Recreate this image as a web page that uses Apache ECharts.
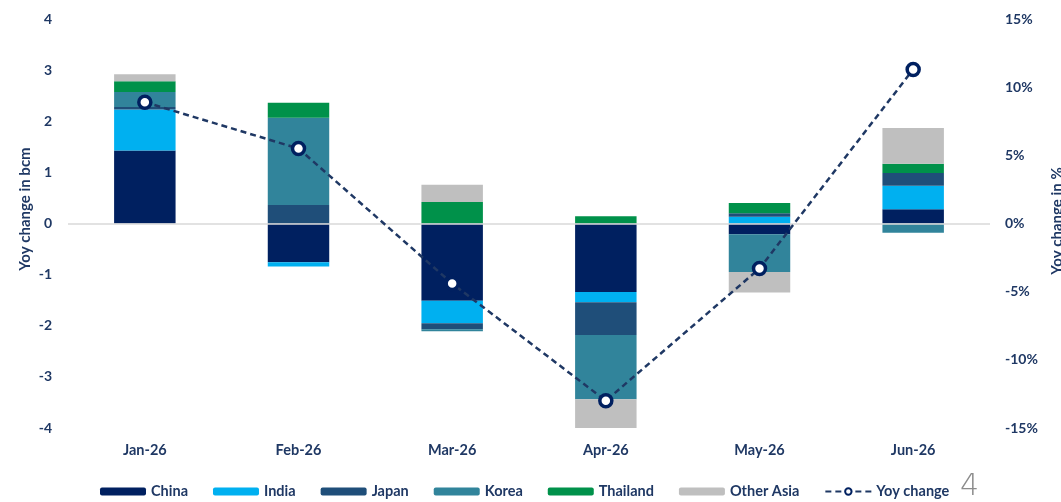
<!DOCTYPE html>
<html>
<head>
<meta charset="utf-8">
<script src="https://cdn.jsdelivr.net/npm/echarts@6/dist/echarts.min.js"></script>
<style>
  html, body { margin: 0; padding: 0; background: #ffffff; }
  #chart { width: 1061px; height: 502px; }
</style>
</head>
<body>
<div id="chart"></div>
<script>
// LNG import change by origin, year-on-year (bcm), with total yoy change (%)
const months = ['Jan-26', 'Feb-26', 'Mar-26', 'Apr-26', 'May-26', 'Jun-26'];
const china     = [1.43, -0.76, -1.51, -1.34, -0.21, 0.28];
const india     = [0.80, -0.08, -0.44, -0.20, 0.13, 0.46];
const japan     = [0.05, 0.36, -0.12, -0.64, 0.07, 0.25];
const korea     = [0.29, 1.71, -0.04, -1.26, -0.74, -0.18];
const thailand  = [0.21, 0.29, 0.42, 0.14, 0.20, 0.18];
const otherAsia = [0.14, 0.00, 0.34, -0.59, -0.40, 0.70];
const yoyChange = [8.9, 5.5, -4.4, -13.0, -3.3, 11.3];

const textColor = '#1F3864';
const fontFamily = 'Lato, "Open Sans", sans-serif';

const barSeries = [
  { name: 'China', data: china, color: '#002060' },
  { name: 'India', data: india, color: '#00B0F0' },
  { name: 'Japan', data: japan, color: '#1F4E79' },
  { name: 'Korea', data: korea, color: '#31849B' },
  { name: 'Thailand', data: thailand, color: '#00914A' },
  { name: 'Other Asia', data: otherAsia, color: '#BFBFBF' }
].map(s => ({
  name: s.name,
  type: 'bar',
  stack: 'origin',
  barWidth: '40%',
  data: s.data,
  itemStyle: { color: s.color },
  emphasis: { disabled: true }
}));

const chart = echarts.init(document.getElementById('chart'), null, { renderer: 'canvas' });

chart.setOption({
  animation: false,
  backgroundColor: '#ffffff',
  textStyle: { fontFamily: fontFamily },
  grid: { left: 68, right: 71, top: 19, bottom: 74, outerBoundsMode: 'none', containLabel: false },
  legend: {
    left: 100,
    top: 484,
    padding: 0,
    itemWidth: 46,
    itemHeight: 8,
    itemGap: 25,
    textStyle: { color: textColor, fontWeight: 'bold', fontSize: 14.5, fontFamily: fontFamily },
    data: ['China', 'India', 'Japan', 'Korea', 'Thailand', 'Other Asia', 'Yoy change']
  },
  xAxis: {
    type: 'category',
    data: months,
    axisLine: { show: false },
    axisTick: { show: false },
    axisLabel: {
      color: textColor, fontWeight: 'bold', fontSize: 14.5, fontFamily: fontFamily,
      margin: 15
    }
  },
  yAxis: [
    {
      type: 'value',
      min: -4, max: 4, interval: 1,
      axisLine: { show: false },
      axisTick: { show: false },
      splitLine: { show: false },
      axisLabel: { color: textColor, fontWeight: 'bold', fontSize: 14, margin: 16, fontFamily: fontFamily }
    },
    {
      type: 'value',
      min: -15, max: 15, interval: 5,
      axisLine: { show: false },
      axisTick: { show: false },
      splitLine: { show: false },
      axisLabel: { color: textColor, fontWeight: 'bold', fontSize: 14, margin: 15, formatter: '{value}%', fontFamily: fontFamily }
    }
  ],
  series: barSeries.concat([
    {
      name: 'zero',
      type: 'line',
      data: [],
      markLine: {
        silent: true,
        symbol: 'none',
        label: { show: false },
        lineStyle: { color: '#D9D9D9', width: 1.5, type: 'solid' },
        data: [{ yAxis: 0 }]
      },
      z: 1
    },
    {
      name: 'Yoy change',
      type: 'line',
      yAxisIndex: 1,
      data: yoyChange,
      symbol: 'circle',
      symbolSize: 12,
      showSymbol: true,
      lineStyle: { color: '#1F3864', width: 2.5, type: [6, 4] },
      itemStyle: { color: '#ffffff', borderColor: '#002060', borderWidth: 3.5 },
      emphasis: { disabled: true },
      z: 5
    }
  ]),
  graphic: [
    {
      type: 'text',
      x: 25,
      y: 209,
      rotation: Math.PI / 2,
      style: {
        text: 'Yoy change in bcm', align: 'center', verticalAlign: 'middle',
        fontSize: 15, fontWeight: 'bold', fill: textColor, fontFamily: fontFamily
      }
    },
    {
      type: 'text',
      x: 1057,
      y: 221,
      rotation: Math.PI / 2,
      style: {
        text: 'Yoy change in %', align: 'center', verticalAlign: 'middle',
        fontSize: 15, fontWeight: 'bold', fill: textColor, fontFamily: fontFamily
      }
    },
    {
      type: 'text',
      left: 960,
      top: 472,
      style: { text: '4', fontSize: 30, fontWeight: 200, fill: '#8C8C8C', fontFamily: '"DejaVu Sans", sans-serif' }
    }
  ]
});
</script>
</body>
</html>
